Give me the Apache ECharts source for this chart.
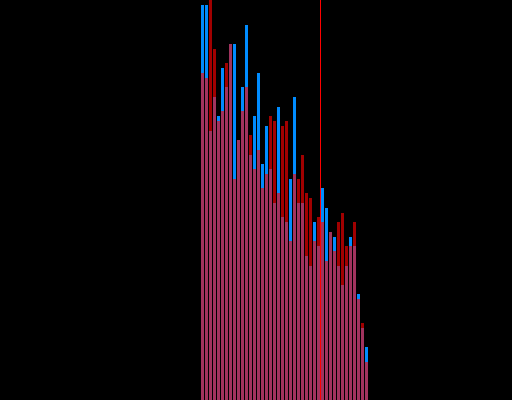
<!DOCTYPE html>
<html>
<head>
<meta charset="utf-8">
<script src="https://cdn.jsdelivr.net/npm/echarts@6/dist/echarts.min.js"></script>
<style>
html,body{margin:0;padding:0;background:#000;}
#chart{width:512px;height:400px;}
</style>
</head>
<body>
<div id="chart"></div>
<script>
// bin index of each bar
var bins = [];
for (var k = 0; k < 42; k++) bins.push(k);
var blueValues = [395,395,269,303,284,332,313,356,356,260,313,375,245,284,327,236,274,231,197,293,183,178,221,303,197,197,144,134,178,154,212,192,168,163,134,115,134,163,154,106,72,53];
var redValues  = [327,322,420,351,279,289,337,356,221,260,289,313,265,231,250,212,226,284,279,207,274,279,159,226,221,245,207,202,159,183,178,139,168,149,178,187,154,154,178,101,77,38];
var thresholdBin = 30;

function pairs(vals){
  return bins.map(function(b, i){ return [b + 0.5, vals[i]]; });
}

var chart = echarts.init(document.getElementById('chart'), null, {renderer:'canvas'});
chart.setOption({
  animation: false,
  backgroundColor: '#000000',
  grid: {left: 200.5, top: 0, width: 168, bottom: 0},
  xAxis: {type: 'value', min: 0, max: 42, show: false},
  yAxis: {type: 'value', min: 0, max: 400, show: false},
  series: [
    {
      type: 'bar', data: pairs(blueValues), barWidth: 3, barGap: '-100%',
      itemStyle: {color: 'rgb(0,140,255)'}, clip: true
    },
    {
      type: 'bar', data: pairs(redValues), barWidth: 3, barGap: '-100%',
      itemStyle: {color: 'rgba(255,0,0,0.63)'}, clip: true,
      markLine: {
        silent: true, symbol: ['none','none'],
        label: {show: false},
        lineStyle: {color: '#ff0000', width: 1, type: 'solid'},
        data: [{xAxis: thresholdBin}]
      }
    }
  ]
});
</script>
</body>
</html>
